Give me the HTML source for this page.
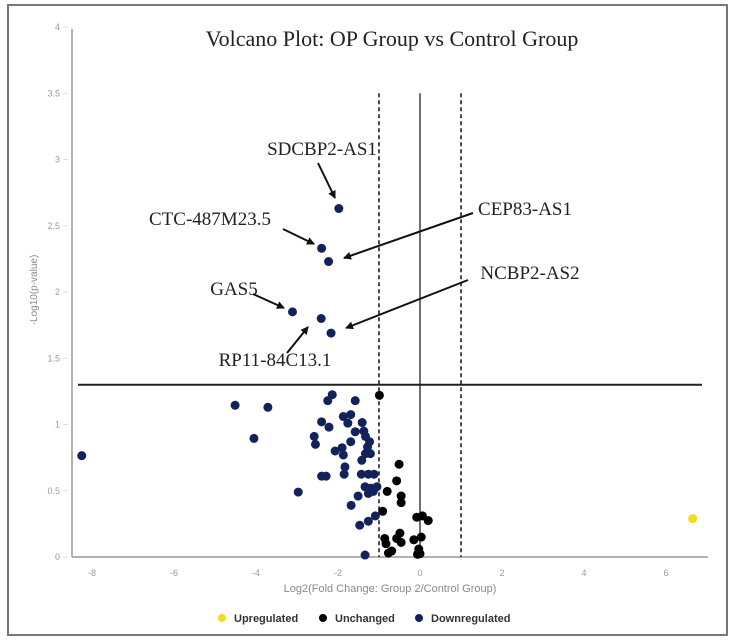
<!DOCTYPE html>
<html><head><meta charset="utf-8">
<style>
html,body{margin:0;padding:0;background:#fff;}
svg{display:block;}
.tick{font-family:"Liberation Sans",sans-serif;font-size:9px;fill:#9a9a9a;}
.ann{font-family:"Liberation Serif",serif;font-size:19px;fill:#222;}
.leg{font-family:"Liberation Sans",sans-serif;font-size:11px;font-weight:bold;fill:#333;}
</style></head>
<body>
<svg id="chart" width="732" height="644" viewBox="0 0 732 644">
<defs><marker id="ah" markerWidth="8" markerHeight="8" refX="7" refY="4" orient="auto" markerUnits="userSpaceOnUse"><path d="M0,0 L8,4 L0,8 z" fill="#111"/></marker></defs>
<rect x="8" y="5" width="719" height="630" fill="#fff" stroke="#777" stroke-width="2"/>
<text x="392" y="46" text-anchor="middle" font-family="Liberation Serif, serif" font-size="22" fill="#222">Volcano Plot: OP Group vs Control Group</text>
<g id="axes"></g>
<g id="points"></g>
<g id="annots"></g>
<text x="390" y="592" text-anchor="middle" font-family="Liberation Sans, sans-serif" font-size="11" fill="#8a8a8a">Log2(Fold Change: Group 2/Control Group)</text>
<text transform="translate(37,290) rotate(-90)" text-anchor="middle" font-family="Liberation Sans, sans-serif" font-size="10" fill="#8a8a8a">-Log10(p-value)</text>
<g>
<circle cx="222" cy="618" r="4" fill="#f2dc1a"/>
<text class="leg" x="234" y="622">Upregulated</text>
<circle cx="323" cy="618" r="4" fill="#000"/>
<text class="leg" x="335" y="622">Unchanged</text>
<circle cx="419" cy="618" r="4" fill="#13225a"/>
<text class="leg" x="431" y="622">Downregulated</text>
</g>
</svg>
<script>
const xTicks = [-8,-6,-4,-2,0,2,4,6];
const yTicks = [0,0.5,1,1.5,2,2.5,3,3.5,4];
const downX = [-8.25,-4.51,-3.71,-4.05,-2.97,-2.14,-2.25,-1.58,-2.4,-2.22,-1.87,-1.69,-1.76,-1.41,-1.58,-1.37,-1.33,-1.23,-2.58,-2.55,-1.69,-2.07,-1.9,-1.87,-1.28,-1.33,-1.21,-1.42,-1.83,-1.85,-2.4,-2.29,-1.43,-1.26,-1.12,-1.34,-1.2,-1.05,-1.26,-1.51,-1.14,-1.68,-1.09,-1.26,-1.47,-1.34,-1.98,-2.4,-2.23,-3.11,-2.41,-2.17];
const downY = [0.765,1.145,1.13,0.895,0.49,1.225,1.18,1.18,1.02,0.98,1.06,1.075,1.01,1.015,0.945,0.95,0.91,0.87,0.91,0.85,0.87,0.8,0.825,0.77,0.83,0.78,0.78,0.73,0.68,0.625,0.61,0.61,0.625,0.625,0.625,0.53,0.52,0.53,0.48,0.46,0.495,0.39,0.31,0.27,0.24,0.015,2.63,2.33,2.23,1.85,1.80,1.69];
const unchX = [-0.99,-0.51,-0.57,-0.8,-0.46,-0.46,-0.91,-0.08,0.06,0.2,-0.49,-0.86,-0.57,-0.83,-0.46,-0.15,0.03,-0.69,-0.77,-0.03,0,-0.06];
const unchY = [1.22,0.70,0.575,0.495,0.46,0.41,0.345,0.3,0.31,0.275,0.18,0.14,0.14,0.1,0.11,0.13,0.15,0.045,0.03,0.06,0.025,0.02];
const upX = [6.65];
const upY = [0.29];
const fcThreshold = [-1,1];
const pThreshold = [1.3];

const NS='http://www.w3.org/2000/svg';
function X(v){return 420+v*41;}
function Y(v){return 557-v*132.5;}
function mk(tag,attrs,parent){const e=document.createElementNS(NS,tag);for(const k in attrs)e.setAttribute(k,attrs[k]);parent.appendChild(e);return e;}
const axes=document.getElementById('axes');
let e;
e=mk('line',{x1:72,y1:Y(4)+2,x2:72,y2:Y(0),stroke:'#999','stroke-width':1.5},axes);


e=mk('line',{x1:72,y1:Y(0),x2:708,y2:Y(0),stroke:'#999','stroke-width':1.5},axes);


yTicks.forEach(t=>{
  e=mk('text',{x:60,y:Y(t)+3,'text-anchor':'end',class:'tick'},axes);e.textContent=String(t);
  
  
  mk('line',{x1:63,y1:Y(t),x2:68,y2:Y(t),stroke:'#ddd'},axes);
});
xTicks.forEach(t=>{
  e=mk('text',{x:X(t),y:Y(0)+19,'text-anchor':'middle',class:'tick'},axes);e.textContent=String(t);
  
  
});
fcThreshold.forEach(t=>{
  e=mk('line',{x1:X(t),y1:Y(3.5),x2:X(t),y2:Y(0),stroke:'#111','stroke-width':1.5,'stroke-dasharray':'4,3'},axes);
  
  
});
e=mk('line',{x1:X(0),y1:Y(3.5),x2:X(0),y2:Y(0),stroke:'#222','stroke-width':1.3},axes);


pThreshold.forEach(t=>{
  e=mk('line',{x1:78,y1:Y(t),x2:702,y2:Y(t),stroke:'#222','stroke-width':2},axes);
  
  
});
const pts=document.getElementById('points');
function drawSeries(xs,ys,color,name){
  xs.forEach((x,i)=>{
    const c=mk('circle',{cx:X(x),cy:Y(ys[i]),r:4.5,fill:color},pts);
    
    
  });
}
drawSeries(unchX,unchY,'#000','unchanged-point');
drawSeries(downX,downY,'#13225a','downregulated-point');
drawSeries(upX,upY,'#f2dc1a','upregulated-point');

const an=document.getElementById('annots');
const labels=[
 ['SDCBP2-AS1',322,155,318,163,335,198],
 ['CTC-487M23.5',210,225,283,229,314,244],
 ['CEP83-AS1',525,215,473,213,344,258],
 ['NCBP2-AS2',530,279,468,280,346,328],
 ['GAS5',234,295,253,294,284,308],
 ['RP11-84C13.1',275,366,287,353,308,327]
];
labels.forEach(l=>{
  const t=mk('text',{x:l[1],y:l[2],'text-anchor':'middle',class:'ann'},an);t.textContent=l[0];
  
  
  const a=mk('line',{x1:l[3],y1:l[4],x2:l[5],y2:l[6],stroke:'#111','stroke-width':2,'marker-end':'url(#ah)'},an);
  
  
});
</script>
</body></html>
